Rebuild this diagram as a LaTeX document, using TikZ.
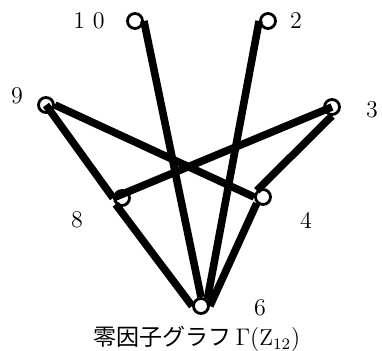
\documentclass[tikz,border=0pt]{standalone}
\usepackage{fontspec}
\newfontfamily\jafont{Noto Sans CJK JP}
\usetikzlibrary{positioning}

\begin{document}
\begin{tikzpicture}[
                x=0.5pt, y=-0.5pt,
                vertice/.style={
                    circle,
                    draw=black,
                    line width=1.4pt,
                    minimum size=7.5pt,
                    inner sep=0pt
                },
                etiqueta/.style={
                    font=\fontsize{12}{14}\selectfont
                },
                arista/.style={
                    line width=3.8pt
                }
            ]
                \useasboundingbox (0,0) rectangle (382,351);
                % vertices
                \node[vertice] (n10) at (135,21) {};
                \node[vertice] (n2) at (268,21) {};
                \node[vertice] (n9) at (46,105) {};
                \node[vertice] (n3) at (332,107) {};
                \node[vertice] (n8) at (122,198) {};
                \node[vertice] (n4) at (263,197) {};
                \node[vertice] (n6) at (201,306) {};
                % etiquetas
                \node[etiqueta] (l10) at (89,21) {1\ 0};
                \node[etiqueta] (l2) at (296,21) {2};
                \node[etiqueta] (l9) at (17,96) {9};
                \node[etiqueta] (l3) at (372,110) {3};
                \node[etiqueta] (l8) at (77,220) {8};
                \node[etiqueta] (l4) at (306,220) {4};
                \node[etiqueta] (l6) at (260,308) {6};
                \node[font=\fontsize{11.5}{13}\selectfont] (titulo) at (197,339) {\jafont 零因子グラフ\,$\Gamma(\mathrm{Z}_{12})$};
                % aristas
                \draw[arista] (n10.east) -- (n6.north);
                \draw[arista] (n2.west) -- (n6.north east);
                \draw[arista] (n9.center) -- (n8.west);
                \draw[arista] (n9.east) -- (n4.west);
                \draw[arista] (n3.center) -- (n8.west);
                \draw[arista] (n3.south) -- (n4.north west);
                \draw[arista] (n8.south west) -- (n6.west);
                \draw[arista] (n4.south west) -- (n6.east);
            \end{tikzpicture}
\end{document}
